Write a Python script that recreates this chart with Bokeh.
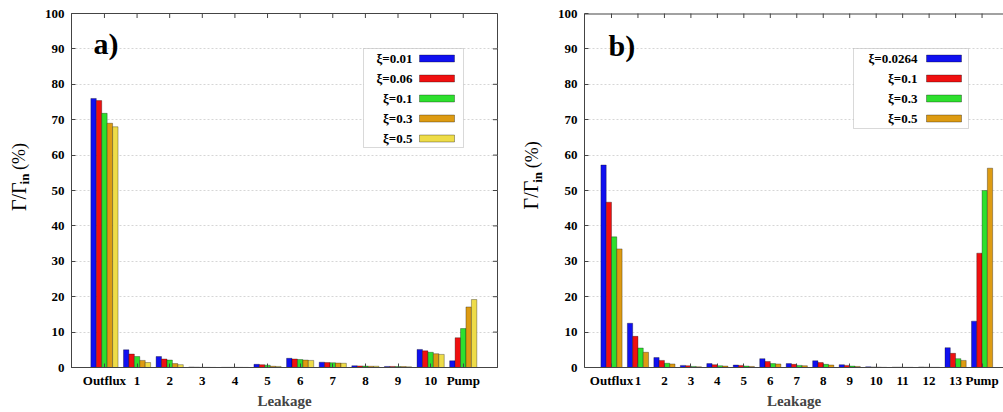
import numpy as np
from bokeh.plotting import figure
from bokeh.models import FixedTicker, Label, BoxAnnotation, Range1d, Span
from bokeh.layouts import row
from bokeh.embed import file_html
from bokeh.resources import INLINE
from bokeh.core.properties import value

# ---------------- data ----------------
cats_a = ["Outflux", "1", "2", "3", "4", "5", "6", "7", "8", "9", "10", "Pump"]
labels_a = ["ξ=0.01", "ξ=0.06", "ξ=0.1", "ξ=0.3", "ξ=0.5"]
a_001 = [76.0, 5.0, 3.1, 0.15, 0.05, 0.9, 2.6, 1.5, 0.5, 0.3, 5.1, 1.9]
a_006 = [75.4, 3.8, 2.4, 0.10, 0.05, 0.8, 2.4, 1.4, 0.45, 0.3, 4.7, 8.4]
a_01 = [71.8, 3.1, 2.1, 0.05, 0.05, 0.65, 2.25, 1.35, 0.4, 0.25, 4.3, 11.0]
a_03 = [69.0, 2.0, 1.1, 0.05, 0.04, 0.35, 2.1, 1.25, 0.35, 0.25, 3.9, 17.1]
a_05 = [68.0, 1.4, 0.8, 0.03, 0.03, 0.3, 2.0, 1.2, 0.35, 0.2, 3.7, 19.2]

cats_b = ["Outflux", "1", "2", "3", "4", "5", "6", "7", "8", "9", "10", "11", "12", "13", "Pump"]
labels_b = ["ξ=0.0264", "ξ=0.1", "ξ=0.3", "ξ=0.5"]
b_00264 = [57.2, 12.5, 2.8, 0.6, 1.1, 0.7, 2.5, 1.1, 1.9, 0.8, 0.2, 0.1, 0.15, 5.6, 13.1]
b_01 = [46.7, 8.8, 2.0, 0.5, 0.8, 0.6, 1.7, 0.9, 1.4, 0.6, 0.15, 0.1, 0.1, 4.0, 32.3]
b_03 = [36.9, 5.5, 1.2, 0.3, 0.5, 0.4, 1.1, 0.6, 0.9, 0.4, 0.1, 0.05, 0.05, 2.5, 50.0]
b_05 = [33.5, 4.3, 1.0, 0.2, 0.4, 0.3, 1.0, 0.5, 0.7, 0.3, 0.05, 0.05, 0.05, 2.0, 56.3]

y_ticks = list(range(0, 101, 10))
colors = ["#1010f0", "#f01010", "#2ee02e", "#dd9b12", "#eedc48"]

FONT = "Liberation Serif"
H = 412
FRAME_TOP, FRAME_BOTTOM = 13.0, 367.0
EDGE = "#444444"


def ylabel_fig(width, gx, ix, px_, gy, iy, py_):
    """narrow figure holding the rotated y-axis title  Γ/Γ_in (%)"""
    f = figure(width=width, height=H, output_backend="svg", toolbar_location=None,
               x_range=Range1d(0, width), y_range=Range1d(H, 0),
               min_border=0, min_border_left=0, min_border_right=0,
               min_border_top=0, min_border_bottom=0)
    f.axis.visible = False
    f.grid.visible = False
    f.outline_line_color = None
    f.border_fill_color = "white"
    f.text(x=[gx], y=[gy], text=["Γ/Γ"], angle=np.pi / 2, text_font=value(FONT),
           text_font_size=value("20px"), text_align="left", text_baseline="middle",
           text_color="black")
    f.text(x=[ix], y=[iy], text=["in"], angle=np.pi / 2, text_font=value(FONT),
           text_font_style="bold", text_font_size=value("13px"), text_align="left",
           text_baseline="middle", text_color="black")
    f.text(x=[px_], y=[py_], text=["(%)"], angle=np.pi / 2, text_font=value(FONT),
           text_font_size=value("18px"), text_align="left", text_baseline="middle",
           text_color="black")
    return f


def panel(cats, labels, series, page_left, width, border_left, border_right,
          x_start, x_end, tag, tag_xy, legend_box, legend_text_right, swatch_lr,
          right_edge):
    fl = page_left + border_left
    fr = page_left + width - border_right

    def fx(px):
        return x_start + (px - fl) / (fr - fl) * (x_end - x_start)

    def fy(py):
        return (FRAME_BOTTOM - py) / (FRAME_BOTTOM - FRAME_TOP) * 100.0

    p = figure(width=width, height=H, output_backend="svg", toolbar_location=None,
               x_range=Range1d(x_start, x_end), y_range=Range1d(0, 100),
               min_border_left=border_left, min_border_right=border_right,
               min_border_top=int(FRAME_TOP), min_border_bottom=int(H - FRAME_BOTTOM))
    p.background_fill_color = "white"
    p.border_fill_color = "white"
    if right_edge:
        p.outline_line_color = EDGE
        p.outline_line_width = 1
    else:
        p.outline_line_color = None
        p.add_layout(Span(location=100, dimension="width", line_color=EDGE, line_width=2))

    n = len(cats)
    m = len(series)
    w = 1.0 / (m + 1)
    for j, vals in enumerate(series):
        xs = np.arange(n) + (j - (m - 1) / 2.0) * w
        p.vbar(x=xs, top=vals, bottom=0, width=w, fill_color=colors[j],
               line_color="#000000", line_alpha=0.45, line_width=0.7)

    xt = FixedTicker(ticks=list(range(n)))
    yt = FixedTicker(ticks=y_ticks)
    p.xaxis.ticker = xt
    p.yaxis.ticker = yt
    p.xaxis.major_label_overrides = {i: c for i, c in enumerate(cats)}
    p.xaxis.axis_label = "Leakage"
    p.xaxis.axis_label_text_font = FONT
    p.xaxis.axis_label_text_font_style = "bold"
    p.xaxis.axis_label_text_font_size = "15px"
    p.xaxis.axis_label_standoff = 2
    p.xaxis.major_label_standoff = 5
    p.yaxis.major_label_standoff = 7

    for ax in p.axis:
        ax.major_label_text_font = FONT
        ax.major_label_text_font_style = "bold"
        ax.major_label_text_font_size = "13px"
        ax.major_label_text_color = "black"
        ax.major_tick_in = 4
        ax.major_tick_out = 0
        ax.minor_tick_line_color = None
        ax.axis_line_color = EDGE
        ax.major_tick_line_color = EDGE

    # mirrored inward ticks on the top edge (and right edge for panel a)
    p.scatter(x=list(range(n)), y=[100] * n, marker="dash", angle=np.pi / 2, size=9,
              line_color=EDGE, line_width=1)
    if right_edge:
        p.scatter(x=[x_end] * len(y_ticks), y=y_ticks, marker="dash", size=9,
                  line_color=EDGE, line_width=1)

    p.xgrid.grid_line_color = None
    p.ygrid.ticker = yt
    p.ygrid.grid_line_color = "#d6d6d6"
    p.ygrid.grid_line_dash = "2 2"

    # panel tag
    p.add_layout(Label(x=fx(tag_xy[0]), y=fy(tag_xy[1]), text=tag, text_font=FONT,
                       text_font_style="bold", text_font_size="30px",
                       text_align="left", text_baseline="middle", text_color="black"))

    # legend box (label left, swatch right, gnuplot style)
    bl, bt, br, bb = legend_box
    p.add_layout(BoxAnnotation(left=fx(bl), right=fx(br), top=fy(bt), bottom=fy(bb),
                               fill_color="white", fill_alpha=1.0,
                               line_color="#808080", line_width=1, level="underlay"))
    rows_y = [bt + 10 + 20 * k for k in range(m)]
    sl, sr = swatch_lr
    p.quad(left=[fx(sl)] * m, right=[fx(sr)] * m,
           top=[fy(yy - 3.5) for yy in rows_y], bottom=[fy(yy + 3.5) for yy in rows_y],
           fill_color=colors[:m], line_color="#000000", line_alpha=0.45, line_width=0.7)
    p.text(x=[fx(legend_text_right)] * m, y=[fy(yy) for yy in rows_y], text=labels,
           text_align="right", text_baseline="middle", text_font=value(FONT),
           text_font_style="bold", text_font_size=value("13px"), text_color="black")
    return p


# panel a: page x 0..500, frame 71..497
lab_a = ylabel_fig(36, gx=18.5, ix=24, px_=18.5, gy=230, iy=199, py_=182)
p1 = panel(cats_a, labels_a, [a_001, a_006, a_01, a_03, a_05],
           page_left=36, width=464, border_left=35, border_right=3,
           x_start=-1.01, x_end=12.05, tag="a)", tag_xy=(93, 43),
           legend_box=(363, 48, 463, 147), legend_text_right=412, swatch_lr=(419, 454),
           right_edge=True)

# panel b: page x 500..1003, frame 584..1003
lab_b = ylabel_fig(48, gx=30, ix=37, px_=31.5, gy=228, iy=197, py_=180)
p2 = panel(cats_b, labels_b, [b_00264, b_01, b_03, b_05],
           page_left=548, width=455, border_left=36, border_right=0,
           x_start=-1.02, x_end=14.81, tag="b)", tag_xy=(608, 45),
           legend_box=(853, 48, 968, 128), legend_text_right=917, swatch_lr=(926, 961),
           right_edge=False)

layout = row(lab_a, p1, lab_b, p2)
open("out.html", "w").write(file_html(layout, INLINE))
